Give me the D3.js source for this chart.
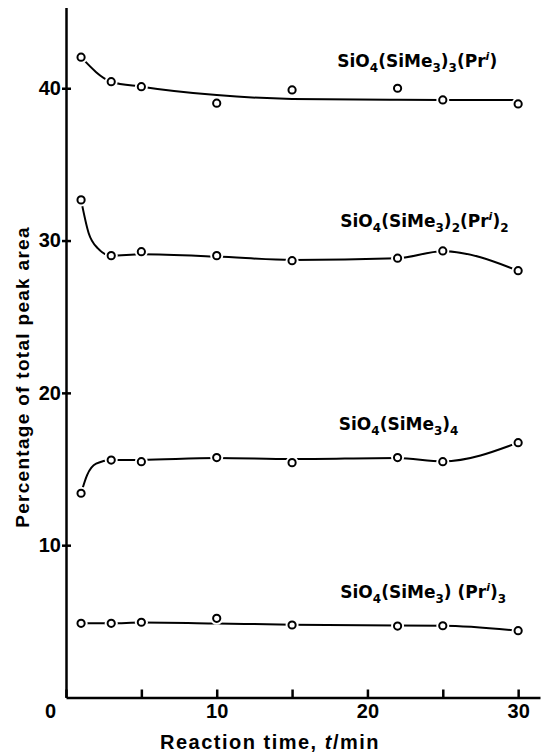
<!DOCTYPE html>
<html>
<head>
<meta charset="utf-8">
<script src="https://cdn.jsdelivr.net/npm/d3@7/dist/d3.min.js"></script>
<style>
	html, body { margin: 0; padding: 0; background: #fff; }
	#viz text { fill: #000; }
</style>
</head>
<body>
<div id="viz"></div>
<script>
// Reaction time (min) of each measured point
var times = [1, 3, 5, 10, 15, 22, 25, 30];

// Percentage of total peak area
var trisPts = [42.04, 40.43, 40.1, 39.02, 39.89, 40.0, 39.23, 38.97];   // SiO4(SiMe3)3(Pr^i)
var bisPts = [32.67, 29.01, 29.27, 29.01, 28.68, 28.84, 29.32, 28.02];  // SiO4(SiMe3)2(Pr^i)2
var tetraPts = [13.41, 15.59, 15.48, 15.75, 15.42, 15.75, 15.48, 16.73]; // SiO4(SiMe3)4
var monoPts = [4.87, 4.87, 4.94, 5.2, 4.76, 4.69, 4.71, 4.39];          // SiO4(SiMe3)(Pr^i)3

// The hand drawn curves through the points
var trisCurveT = [1, 3, 5, 10, 15, 22, 25, 30];
var trisCurve = [42.04, 40.43, 40.1, 39.55, 39.3, 39.24, 39.23, 39.22];
var bisCurveT = [1, 1.5, 2.1, 3, 5, 10, 15, 22, 25, 30];
var bisCurve = [32.67, 30.5, 29.5, 29.01, 29.1, 28.95, 28.72, 28.84, 29.3, 28.02];
var tetraCurveT = [1, 1.4, 2, 3, 5, 10, 15, 22, 25, 30];
var tetraCurve = [13.41, 14.6, 15.35, 15.59, 15.6, 15.72, 15.65, 15.72, 15.5, 16.73];
var monoCurveT = [1, 3, 5, 10, 15, 22, 25, 30];
var monoCurve = [4.87, 4.87, 4.92, 4.86, 4.78, 4.72, 4.71, 4.39];

var xTicks = [0, 5, 10, 15, 20, 25, 30];
var yTicks = [10, 20, 30, 40];

// where each formula label sits (time, percentage)
var labelAt = [[18, 41.42], [18.2, 30.91], [18.1, 17.56], [18.2, 6.51]];
var labelParts = [
	[["SiO", ""], ["4", "sub"], ["(SiMe", ""], ["3", "sub"], [")", ""], ["3", "sub"], ["(Pr", ""], ["i", "sup"], [")", ""]],
	[["SiO", ""], ["4", "sub"], ["(SiMe", ""], ["3", "sub"], [")", ""], ["2", "sub"], ["(Pr", ""], ["i", "sup"], [")", ""], ["2", "sub"]],
	[["SiO", ""], ["4", "sub"], ["(SiMe", ""], ["3", "sub"], [")", ""], ["4", "sub"]],
	[["SiO", ""], ["4", "sub"], ["(SiMe", ""], ["3", "sub"], [") (Pr", ""], ["i", "sup"], [")", ""], ["3", "sub"]]
];

var WIDTH = 545;
var HEIGHT = 754;
var AXIS_FONT = "'Liberation Sans', Arial, sans-serif";
var LABEL_FONT = "'DejaVu Sans', sans-serif";

var svg = d3.select("#viz").append("svg")
	.attr("width", WIDTH)
	.attr("height", HEIGHT);

var x = d3.scaleLinear().domain([0, 31.45]).range([66, 540]);
var y = d3.scaleLinear().domain([0, 45.3]).range([697.5, 7.5]);

var series = [
	{ pts: trisPts, ct: trisCurveT, cv: trisCurve },
	{ pts: bisPts, ct: bisCurveT, cv: bisCurve },
	{ pts: tetraPts, ct: tetraCurveT, cv: tetraCurve },
	{ pts: monoPts, ct: monoCurveT, cv: monoCurve }
];

// axes
var xAxis = d3.axisBottom(x)
	.tickValues(xTicks)
	.tickSizeInner(-8)
	.tickSizeOuter(0)
	.tickPadding(6)
	.tickFormat(function(d) { return d % 10 == 0 ? d : ""; });

var gx = svg.append("g")
	.attr("transform", "translate(0," + y(0) + ")")
	.call(xAxis);

gx.selectAll("text").filter(function(d) { return d == 0; })
	.attr("x", -16);

var yAxis = d3.axisLeft(y)
	.tickValues(yTicks)
	.tickSizeInner(-5)
	.tickSizeOuter(0)
	.tickPadding(5);

var gy = svg.append("g")
	.attr("transform", "translate(" + x(0) + ",0)")
	.call(yAxis);
gy.selectAll(".tick line").attr("x1", -4);

svg.selectAll(".domain, .tick line")
	.attr("stroke", "#000")
	.attr("stroke-width", 2.5);
svg.selectAll(".tick text")
	.attr("font-family", AXIS_FONT)
	.attr("font-size", 20)
	.attr("font-weight", "bold")
	.attr("fill", "#000");

// axis titles
svg.append("text")
	.attr("x", 270)
	.attr("y", 749)
	.attr("text-anchor", "middle")
	.attr("font-family", AXIS_FONT)
	.attr("font-size", 20)
	.attr("font-weight", "bold")
	.attr("letter-spacing", 1.5)
	.html("Reaction time, <tspan font-style='italic'>t</tspan>/min");

svg.append("text")
	.attr("transform", "translate(29,377) rotate(-90)")
	.attr("text-anchor", "middle")
	.attr("font-family", AXIS_FONT)
	.attr("font-size", 19)
	.attr("font-weight", "bold")
	.attr("letter-spacing", 1.3)
	.text("Percentage of total peak area");

// curves
var line = d3.line()
	.x(function(d) { return x(d[0]); })
	.y(function(d) { return y(d[1]); })
	.curve(d3.curveMonotoneX);

$each = function(arr, fn) { for (var i = 0; i < arr.length; i++) fn(i, arr[i]); };

$each(series, function(i, s) {
	var pts = s.ct.map(function(t, k) { return [t, s.cv[k]]; });
	svg.append("path")
		.attr("d", line(pts))
		.attr("fill", "none")
		.attr("stroke", "#000")
		.attr("stroke-width", 2)
		.attr("stroke-linejoin", "round");
});

// open circles, with a white halo so lines stop short of them
$each(series, function(i, s) {
	var data = times.map(function(t, k) { return [t, s.pts[k]]; });
	svg.append("g").selectAll("circle")
		.data(data)
		.enter().append("circle")
		.attr("cx", function(d) { return x(d[0]); })
		.attr("cy", function(d) { return y(d[1]); })
		.attr("r", 6.5)
		.attr("fill", "#fff");
	svg.append("g").selectAll("circle")
		.data(data)
		.enter().append("circle")
		.attr("cx", function(d) { return x(d[0]); })
		.attr("cy", function(d) { return y(d[1]); })
		.attr("r", 3.6)
		.attr("fill", "#fff")
		.attr("stroke", "#000")
		.attr("stroke-width", 2);
});

// formula labels
var addFormula = function(parts, px, py) {
	var t = svg.append("text")
		.attr("x", px)
		.attr("y", py)
		.attr("font-family", LABEL_FONT)
		.attr("font-size", 17)
		.attr("font-weight", "bold");
	var shift = 0;
	$each(parts, function(k, p) {
		var target = p[1] == "sub" ? 5 : (p[1] == "sup" ? -7 : 0);
		var ts = t.append("tspan")
			.attr("dy", target - shift)
			.text(p[0]);
		if (p[1] == "sub")
			ts.attr("font-size", 12);
		else if (p[1] == "sup")
			ts.attr("font-size", 11).attr("font-style", "italic");
		shift = target;
	});
};

$each(labelAt, function(i, pos) {
	addFormula(labelParts[i], x(pos[0]), y(pos[1]));
});
</script>
</body>
</html>
